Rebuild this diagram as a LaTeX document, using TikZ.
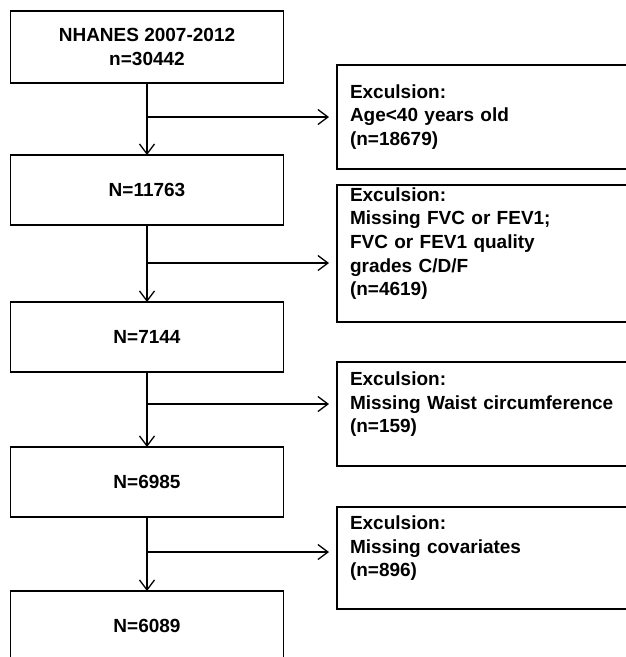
\documentclass[tikz,border=0pt]{standalone}
\usepackage{fontspec}
\setmainfont{Liberation Sans}
\usetikzlibrary{
  arrows.meta,
  positioning
}
\tikzset{
  stepbox/.style={
    draw,
    line width=1.6pt,
    inner sep=0pt,
    outer sep=0pt,
    align=center,
    minimum width=273pt,
    minimum height=70pt,
    font=\fontsize{19}{23.6}\selectfont\bfseries
  },
  exclbox/.style={
    draw,
    line width=1.6pt,
    anchor=north west,
    inner xsep=13pt,
    inner ysep=0pt,
    outer sep=0pt,
    align=left,
    text width=277pt,
    font=\fontsize{19}{23.6}\selectfont\bfseries
  },
  flow/.style={
    -{Straight Barb[length=10pt,width=15pt]},
    line width=1.3pt
  },
  branch/.style={
    flow,
    shorten >=8pt
  }
}
\begin{document}
\begin{tikzpicture}[x=1pt,y=-1pt]

  \useasboundingbox (0,0) rectangle (625,657);

  \node[
    stepbox,
    minimum height=72pt
  ] (nhanes) at (147,47) {
    NHANES 2007-2012\\
    n=30442
  };

  \node[stepbox, below=72pt of nhanes] (adults) {N=11763};
  \node[stepbox, below=77pt of adults] (spiro) {N=7144};
  \node[stepbox, below=75pt of spiro] (waist) {N=6985};
  \node[stepbox, below=74pt of waist] (final) {N=6089};

  \node[exclbox, minimum height=104pt] (exage) at (337,65) {
    Exculsion:\\
    Age<40 years old\\
    (n=18679)
  };

  \node[exclbox, minimum height=137pt] (exlung) at (337,185) {
    Exculsion:\\
    Missing FVC or FEV1;\\
    FVC or FEV1 quality\\
    grades C/D/F\\
    (n=4619)\\
    \mbox{}
  };

  \node[exclbox, minimum height=104pt] (exwaist) at (337,362) {
    Exculsion:\\
    Missing Waist circumference\\
    (n=159)\\
    \mbox{}
  };

  \node[exclbox, minimum height=102pt] (excov) at (337,507) {
    Exculsion:\\
    Missing covariates\\
    (n=896)\\
    \mbox{}
  };

  \coordinate[below=34pt of nhanes] (split1);
  \coordinate[below=38pt of adults] (split2);
  \coordinate[below=32pt of spiro] (split3);
  \coordinate[below=35pt of waist] (split4);

  \draw[flow] (nhanes) -- (adults);
  \draw[flow] (adults) -- (spiro);
  \draw[flow] (spiro) -- (waist);
  \draw[flow] (waist) -- (final);

  \draw[branch] (split1) -- (split1 -| exage.west);
  \draw[branch] (split2) -- (split2 -| exlung.west);
  \draw[branch] (split3) -- (split3 -| exwaist.west);
  \draw[branch] (split4) -- (split4 -| excov.west);

\end{tikzpicture}
\end{document}
